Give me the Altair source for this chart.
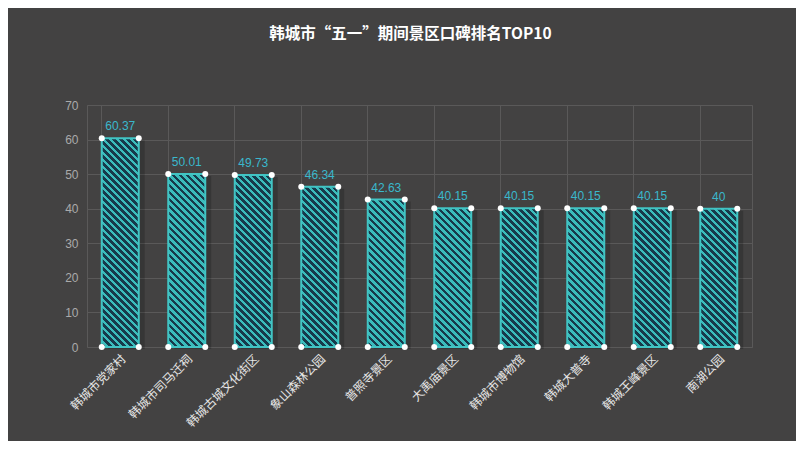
import altair as alt
import pandas as pd

# ---- data ----
names = ["韩城市党家村", "韩城市司马迁祠", "韩城古城文化街区", "象山森林公园", "普照寺景区",
         "大禹庙景区", "韩城市博物馆", "韩城大普寺", "韩城王峰景区", "南湖公园"]
scores = [60.37, 50.01, 49.73, 46.34, 42.63, 40.15, 40.15, 40.15, 40.15, 40]
y_ticks = [0, 10, 20, 30, 40, 50, 60, 70]

df = pd.DataFrame({"name": names, "score": scores, "zero": [0] * len(names)})

# ---- style ----
BG = "#434242"
GRID = "#5a5959"
TEAL = "#41c4c4"
STRIPE_TEAL = "#3bbcbc"
DARK = "#173a4b"
LABEL_TEAL = "#3ab8cc"
PLOT_W, PLOT_H = 665, 242
YMAX = 70
BAR_W = 37
STRIPE = 7.0  # pixel period of the hatch along (y - x)
TEAL_FRAC = 0.45


x_enc = alt.X("name:N", sort=names,
              scale=alt.Scale(paddingInner=0.444, paddingOuter=0.222),
              axis=alt.Axis(title=None, labelAngle=-45, labelAlign="right", labelBaseline="top",
                            labelPadding=6, labelColor="#e6e6e6", labelFontSize=12,
                            labelFont="Noto Sans CJK SC", ticks=False, domain=False,
                            grid=True, bandPosition=0, gridColor=GRID, gridWidth=1))
y_scale = alt.Scale(domain=[0, YMAX], nice=False)
y_axis = alt.Axis(title=None, values=y_ticks, labelColor="#aaaaaa", labelFontSize=12,
                  labelFont="Liberation Sans", ticks=False, domain=False, labelPadding=9,
                  labelOverlap=False, grid=True, gridColor=GRID, gridWidth=1)
y_enc = alt.Y("score:Q", scale=y_scale, axis=y_axis)
y_zero = alt.Y("zero:Q", scale=y_scale, axis=y_axis)


def hatch(value):
    """Diagonal '\\' stripes via hard-stop linear gradient in bbox units."""
    h = value / YMAX * PLOT_H
    w = BAR_W
    k = (h + w) / (w * w + h * h)
    total = w + h
    stops = []
    pos = 0.0
    while pos < total:
        a = pos / total
        b = min((pos + STRIPE * TEAL_FRAC) / total, 1.0)
        c = min((pos + STRIPE) / total, 1.0)
        stops.append(alt.GradientStop(offset=a, color=STRIPE_TEAL))
        stops.append(alt.GradientStop(offset=b, color=STRIPE_TEAL))
        stops.append(alt.GradientStop(offset=b, color=DARK))
        stops.append(alt.GradientStop(offset=c, color=DARK))
        pos += STRIPE
    return alt.LinearGradient(gradient="linear", x1=1, y1=0, x2=1 - k * w, y2=k * h, stops=stops)


base = alt.Chart(df)

shadow = base.mark_bar(size=BAR_W, color="#000000", opacity=0.18, xOffset=6, yOffset=2).encode(
    x=x_enc, y=y_enc)

bars = []
for n, v in zip(names, scores):
    bars.append(
        base.transform_filter(alt.datum.name == n).mark_bar(
            size=BAR_W, fill=hatch(v), stroke=TEAL, strokeWidth=2
        ).encode(x=x_enc, y=y_enc)
    )

dots = []
for off in (-BAR_W / 2, BAR_W / 2):
    dots.append(base.mark_point(filled=True, color="white", size=36, opacity=1, xOffset=off)
                .encode(x=x_enc, y=y_enc))
    dots.append(base.mark_point(filled=True, color="white", size=36, opacity=1, xOffset=off)
                .encode(x=x_enc, y=y_zero))

labels = base.mark_text(baseline="bottom", dy=-5, color=LABEL_TEAL, fontSize=12,
                        font="Liberation Sans").encode(
    x=x_enc, y=y_enc, text=alt.Text("score:Q", format="~g"))

chart = alt.layer(shadow, *bars, *dots, labels).properties(
    width=PLOT_W, height=PLOT_H,
    title=alt.TitleParams("韩城市“五一”期间景区口碑排名TOP10", color="white", fontSize=15.5,
                          fontWeight="bold", font="Noto Sans CJK SC", anchor="middle",
                          offset=57, dx=-9),
    background=BG,
    padding={"left": 79, "top": 97, "right": 44, "bottom": 94},
    autosize=alt.AutoSizeParams(type="none"),
).configure_view(stroke=GRID, strokeWidth=1)

chart.save("out.html", embed_options={"renderer": "svg", "actions": False})
